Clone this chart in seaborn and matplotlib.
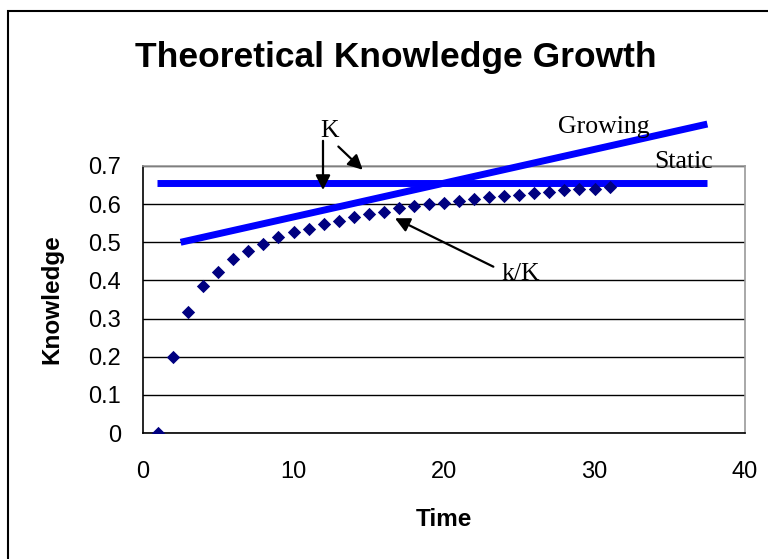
import matplotlib
matplotlib.use("Agg")
import matplotlib.pyplot as plt
from matplotlib.patches import Rectangle
import seaborn as sns
import pandas as pd

# ---- data ----
time = list(range(1, 32))
k_over_K = [0.0, 0.199, 0.318, 0.385, 0.423, 0.456, 0.478, 0.495, 0.513, 0.526,
            0.535, 0.549, 0.556, 0.565, 0.574, 0.580, 0.590, 0.595, 0.600, 0.603,
            0.607, 0.614, 0.618, 0.622, 0.624, 0.629, 0.632, 0.637, 0.640, 0.641,
            0.646]
static_x = [0.9, 37.5]
static_y = [0.655, 0.655]
growing_x = [2.5, 37.5]
growing_y = [0.50, 0.81]
x_ticks = [0, 10, 20, 30, 40]
y_ticks = [0, 0.1, 0.2, 0.3, 0.4, 0.5, 0.6, 0.7]
y_tick_labels = ["0", "0.1", "0.2", "0.3", "0.4", "0.5", "0.6", "0.7"]

sns.set_style("white")
plt.rcParams["font.family"] = ["Liberation Sans", "DejaVu Sans"]
plt.rcParams.update({"text.color": "black", "axes.labelcolor": "black",
                     "xtick.color": "black", "ytick.color": "black"})

fig = plt.figure(figsize=(7.68, 5.59), dpi=100)
ax = fig.add_axes([143 / 768, 1 - 433 / 559, (745 - 143) / 768, (433 - 166) / 559])

df = pd.DataFrame({"Time": time, "Knowledge": k_over_K})
sns.scatterplot(data=df, x="Time", y="Knowledge", ax=ax, marker="D", s=46,
                color="#000080", linewidth=0, zorder=4)

for xs, ys in [(static_x, static_y), (growing_x, growing_y)]:
    sns.lineplot(x=xs, y=ys, ax=ax, color="#0000FF", linewidth=5, zorder=3,
                 estimator=None, sort=False)
for ln in ax.lines:
    ln.set_clip_on(False)
    ln.set_solid_capstyle("butt")

ax.set_xlim(0, 40)
ax.set_ylim(0, 0.7)
ax.set_xticks(x_ticks)
ax.set_xticklabels([str(t) for t in x_ticks])
ax.set_yticks(y_ticks)
ax.set_yticklabels(y_tick_labels)
ax.tick_params(axis="both", labelsize=17, colors="black")
ax.tick_params(axis="x", direction="out", length=6, width=1, pad=14)
ax.tick_params(axis="y", direction="inout", length=10, width=1, pad=11)
ax.yaxis.grid(True, color="black", linewidth=1)
ax.xaxis.grid(False)
ax.set_axisbelow(True)
for s in ["left", "bottom"]:
    ax.spines[s].set_color("black")
    ax.spines[s].set_linewidth(1.2)
for s in ["top", "right"]:
    ax.spines[s].set_color("#999999")
    ax.spines[s].set_linewidth(1.2)

ax.set_xlabel("Time", fontsize=17.5, fontweight="bold", labelpad=18)
ax.set_ylabel("Knowledge", fontsize=17.5, fontweight="bold", labelpad=18)

fig.text(396 / 768, 1 - 58 / 559, "Theoretical Knowledge Growth",
         fontsize=25.5, fontweight="bold", ha="center", va="center")

serif = ["Liberation Serif", "DejaVu Serif"]
ax.text(12.4, 0.776, "K", family=serif, fontsize=18.5, ha="center", va="baseline")
ax.text(27.6, 0.786, "Growing", family=serif, fontsize=18.5, ha="left", va="baseline")
ax.text(34.0, 0.695, "Static", family=serif, fontsize=18.5, ha="left", va="baseline")
ax.text(23.85, 0.40, "k/K", family=serif, fontsize=18.5, ha="left", va="baseline")

arrow = dict(arrowstyle="-|>", color="black", lw=1.6, mutation_scale=22,
             shrinkA=0, shrinkB=0)
ax.annotate("", xy=(11.96, 0.637), xytext=(11.96, 0.766), arrowprops=arrow,
            annotation_clip=False)
ax.annotate("", xy=(14.6, 0.690), xytext=(12.98, 0.751), arrowprops=arrow,
            annotation_clip=False)
ax.annotate("", xy=(16.74, 0.563), xytext=(23.28, 0.436), arrowprops=arrow,
            annotation_clip=False)

fig.patches.append(Rectangle((8 / 768, -0.1), 1.2, 1.1 - 11 / 559,
                             transform=fig.transFigure, fill=False,
                             edgecolor="black", linewidth=1.5))

fig.savefig("out.png", dpi=100)
